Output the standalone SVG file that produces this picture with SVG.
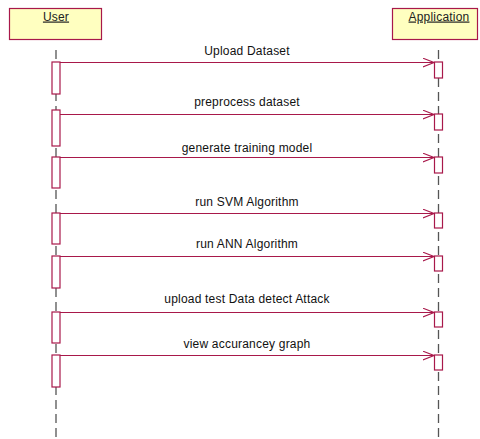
<svg xmlns="http://www.w3.org/2000/svg" width="480" height="439" viewBox="0 0 480 439">
<defs>
<style>
.hdr{fill:#FFFFC0;stroke:#A8184A;stroke-width:1.2}
.ht{font-family:"Liberation Sans",Arial,sans-serif;font-size:12px;fill:#222;text-anchor:middle;text-decoration:underline;letter-spacing:0.2px}
.life{stroke:#555;stroke-width:1.3;stroke-dasharray:9 5;fill:none}
.act{fill:#fff;stroke:#A8184A;stroke-width:1.2}
.msg{stroke:#A8184A;stroke-width:1.1;fill:none}
.lbl{font-family:"Liberation Sans",Arial,sans-serif;font-size:12px;fill:#111;text-anchor:middle;letter-spacing:0.2px}
</style>
<marker id="arr" viewBox="0 0 12 10" refX="11.5" refY="5" markerWidth="12" markerHeight="10" markerUnits="userSpaceOnUse" orient="auto">
<path d="M0,0.5 L11.5,5 L0,9.5" fill="none" stroke="#A8184A" stroke-width="1.1"/>
</marker>
</defs>
<rect width="480" height="439" fill="#fff"/>
<g id="lifelines">
<line class="life" x1="56" y1="50" x2="56" y2="439"/>
<line class="life" x1="438.5" y1="50" x2="438.5" y2="439"/>
</g>
<g id="user">
<rect class="hdr" x="9.5" y="8.5" width="92" height="31"/>
<text class="ht" x="56" y="20.5">User</text>
</g>
<g id="application">
<rect class="hdr" x="392.5" y="8.5" width="85" height="31"/>
<text class="ht" x="439" y="20.5">Application</text>
</g>
<g id="activations">
<rect class="act" x="52" y="62" width="8" height="32"/>
<rect class="act" x="52" y="110" width="8" height="36"/>
<rect class="act" x="52" y="157" width="8" height="31"/>
<rect class="act" x="52" y="213" width="8" height="31"/>
<rect class="act" x="52" y="256" width="8" height="32"/>
<rect class="act" x="52" y="312" width="8" height="31"/>
<rect class="act" x="52" y="355" width="8" height="32"/>
<rect class="act" x="434.5" y="62" width="8" height="16"/>
<rect class="act" x="434.5" y="114" width="8" height="16"/>
<rect class="act" x="434.5" y="157" width="8" height="16"/>
<rect class="act" x="434.5" y="213" width="8" height="15"/>
<rect class="act" x="434.5" y="256" width="8" height="15"/>
<rect class="act" x="434.5" y="312" width="8" height="15"/>
<rect class="act" x="434.5" y="355" width="8" height="15"/>
</g>
<g id="connectors">
<line class="msg" x1="60" y1="62.5" x2="434" y2="62.5" marker-end="url(#arr)"/>
<line class="msg" x1="60" y1="114.5" x2="434" y2="114.5" marker-end="url(#arr)"/>
<line class="msg" x1="60" y1="157.5" x2="434" y2="157.5" marker-end="url(#arr)"/>
<line class="msg" x1="60" y1="213.5" x2="434" y2="213.5" marker-end="url(#arr)"/>
<line class="msg" x1="60" y1="256.5" x2="434" y2="256.5" marker-end="url(#arr)"/>
<line class="msg" x1="60" y1="312.5" x2="434" y2="312.5" marker-end="url(#arr)"/>
<line class="msg" x1="60" y1="355.5" x2="434" y2="355.5" marker-end="url(#arr)"/>
<text class="lbl" x="247" y="55">Upload Dataset</text>
<text class="lbl" x="247" y="106">preprocess dataset</text>
<text class="lbl" x="247" y="152">generate training model</text>
<text class="lbl" x="247" y="206">run SVM Algorithm</text>
<text class="lbl" x="247" y="248">run ANN Algorithm</text>
<text class="lbl" x="247" y="303">upload test Data detect Attack</text>
<text class="lbl" x="247" y="348">view accurancey graph</text>
</g>
</svg>
